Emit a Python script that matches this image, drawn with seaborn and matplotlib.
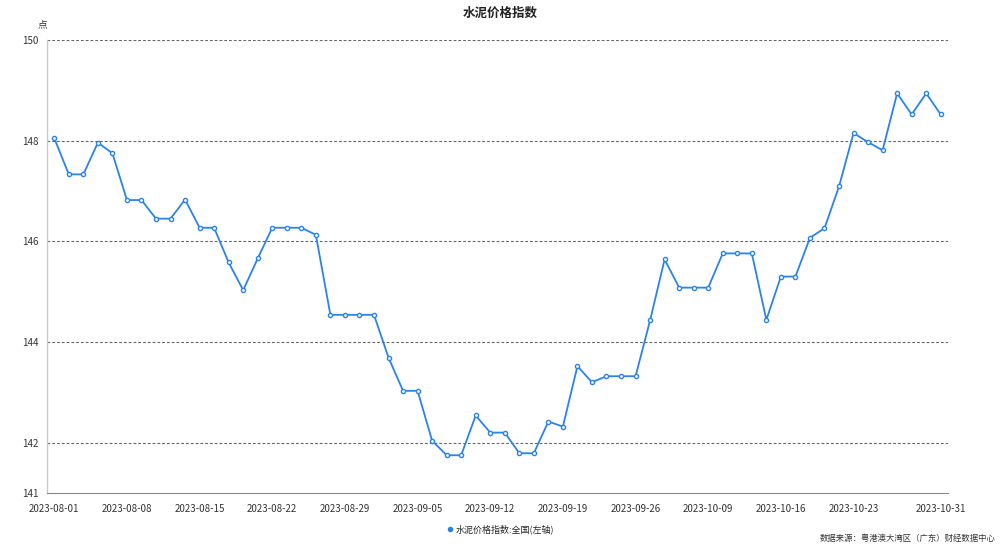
import pandas as pd
import matplotlib.pyplot as plt
import seaborn as sns
from matplotlib.lines import Line2D

# Trading days (category axis)
dates = [
    '2023-08-01', '2023-08-02', '2023-08-03', '2023-08-04', '2023-08-07',
    '2023-08-08', '2023-08-09', '2023-08-10', '2023-08-11', '2023-08-14',
    '2023-08-15', '2023-08-16', '2023-08-17', '2023-08-18', '2023-08-21',
    '2023-08-22', '2023-08-23', '2023-08-24', '2023-08-25', '2023-08-28',
    '2023-08-29', '2023-08-30', '2023-08-31', '2023-09-01', '2023-09-04',
    '2023-09-05', '2023-09-06', '2023-09-07', '2023-09-08', '2023-09-11',
    '2023-09-12', '2023-09-13', '2023-09-14', '2023-09-15', '2023-09-18',
    '2023-09-19', '2023-09-20', '2023-09-21', '2023-09-22', '2023-09-25',
    '2023-09-26', '2023-09-27', '2023-09-28', '2023-10-07', '2023-10-08',
    '2023-10-09', '2023-10-10', '2023-10-11', '2023-10-12', '2023-10-13',
    '2023-10-16', '2023-10-17', '2023-10-18', '2023-10-19', '2023-10-20',
    '2023-10-23', '2023-10-24', '2023-10-25', '2023-10-26', '2023-10-27',
    '2023-10-30', '2023-10-31',
]

# 水泥价格指数:全国 (点)
index_values = [
    148.05, 147.33, 147.33, 147.96, 147.75, 146.82, 146.82, 146.45, 146.45, 146.83,
    146.27, 146.27, 145.58, 145.03, 145.66, 146.27, 146.27, 146.27, 146.13, 144.54,
    144.54, 144.54, 144.54, 143.69, 143.03, 143.03, 142.04, 141.75, 141.75, 142.54,
    142.20, 142.20, 141.79, 141.79, 142.42, 142.32, 143.52, 143.20, 143.32, 143.32,
    143.32, 144.43, 145.64, 145.08, 145.08, 145.08, 145.76, 145.76, 145.76, 144.44,
    145.30, 145.30, 146.07, 146.26, 147.09, 148.15, 147.97, 147.81, 148.94, 148.52,
    148.94, 148.52,
]

y_ticks = [141, 142, 144, 146, 148, 150]
label_idx = [0, 5, 10, 15, 20, 25, 30, 35, 40, 45, 50, 55, 61]

title = '水泥价格指数'
series_name = '水泥价格指数:全国(左轴)'
unit = '点'
source = '数据来源：粤港澳大湾区（广东）财经数据中心'

LINE_COLOR = '#2b83ea'

sns.set_style('white')
plt.rcParams['font.family'] = ['Noto Sans CJK SC', 'DejaVu Sans']

df = pd.DataFrame({'date': dates, 'value': index_values})

fig = plt.figure(figsize=(10, 5.47), dpi=100)
ax = fig.add_axes([0.047, 0.0987, 0.901, 0.8282])

sns.lineplot(data=df, x='date', y='value', ax=ax, color=LINE_COLOR, linewidth=1.3,
             marker='o', markersize=3.0, markerfacecolor='white',
             markeredgecolor=LINE_COLOR, markeredgewidth=1.0, sort=False)

n = len(dates)
ax.set_xlim(-0.5, n - 0.5)
ax.set_ylim(141, 150)

# dashed grid lines
for v in y_ticks[1:]:
    ax.axhline(v, color='#666666', linestyle=(0, (2.5, 1.8)), linewidth=0.8, zorder=0)

ax.set_yticks(y_ticks)
ax.set_yticklabels([str(v) for v in y_ticks], fontsize=7, color='#333333')
ax.tick_params(axis='y', length=0, pad=6)

ax.set_xticks(label_idx)
ax.set_xticklabels([dates[i] for i in label_idx], fontsize=7, color='#333333')
ax.set_xticks([i - 0.5 for i in range(0, n, 5)] + [n - 0.5], minor=True)
ax.tick_params(axis='x', which='major', length=0, pad=8)
ax.tick_params(axis='x', which='minor', length=4, color='#888888', width=0.8)

ax.set_xlabel('')
ax.set_ylabel('')

for side in ['top', 'right']:
    ax.spines[side].set_visible(False)
ax.spines['left'].set_color('#c8cbd6')
ax.spines['left'].set_linewidth(1.0)
ax.spines['bottom'].set_color('#888888')
ax.spines['bottom'].set_linewidth(0.8)

fig.text(0.5, 0.975, title, ha='center', va='center', fontsize=9,
         fontweight='bold', color='#222222')
fig.text(0.042, 0.955, unit, ha='center', va='center', fontsize=7, color='#333333')

handle = Line2D([], [], color=LINE_COLOR, marker='o', markersize=3, linestyle='none')
fig.legend([handle], [series_name], loc='center', bbox_to_anchor=(0.5, 0.033),
           frameon=False, fontsize=6.5, handletextpad=0.2, handlelength=0.8)

fig.text(0.996, 0.007, source, ha='right', va='bottom', fontsize=6, color='#333333')

fig.savefig('out.png', dpi=100)
